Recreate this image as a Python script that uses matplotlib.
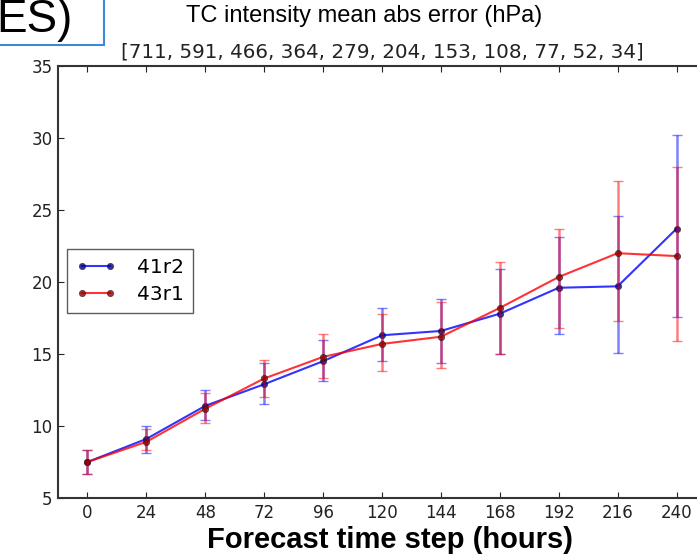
import numpy as np
import matplotlib
matplotlib.use('Agg')
from matplotlib import pyplot as plt
from matplotlib.patches import Rectangle

# forecast steps and sample counts
hours = [0, 24, 48, 72, 96, 120, 144, 168, 192, 216, 240]
counts = [711, 591, 466, 364, 279, 204, 153, 108, 77, 52, 34]

# 41r2 mean abs error and error bar bounds
err_41r2 = [7.5, 9.1, 11.4, 12.9, 14.5, 16.3, 16.6, 17.8, 19.6, 19.7, 23.7]
lo_41r2 = [6.7, 8.1, 10.4, 11.5, 13.1, 14.5, 14.4, 15.0, 16.4, 15.1, 17.6]
hi_41r2 = [8.3, 10.0, 12.5, 14.4, 16.0, 18.2, 18.8, 20.9, 23.1, 24.6, 30.2]

# 43r1
err_43r1 = [7.5, 8.9, 11.2, 13.3, 14.8, 15.7, 16.2, 18.2, 20.35, 22.0, 21.8]
lo_43r1 = [6.7, 8.3, 10.2, 12.0, 13.3, 13.8, 14.0, 15.0, 16.8, 17.3, 15.9]
hi_43r1 = [8.3, 9.8, 12.3, 14.6, 16.4, 17.8, 18.6, 21.4, 23.7, 27.0, 28.0]

fig = plt.figure(figsize=(6.97, 5.58), dpi=100)
ax = fig.add_axes([58/697, 1 - 498/558, 648/697, 432/558])

def draw(y, lo, hi, col, mcol, label):
    y = np.array(y)
    yerr = [y - np.array(lo), np.array(hi) - y]
    ax.errorbar(hours, y, yerr=yerr, fmt='none', ecolor=col, alpha=0.5,
                capsize=3.5, elinewidth=1.8, capthick=1)
    ax.plot(hours, y, '-', color=col, lw=1.5, alpha=0.8, marker='o',
            markersize=4.5, markerfacecolor=mcol, markeredgecolor='#202020',
            markeredgewidth=0.5, label=label)

draw(err_41r2, lo_41r2, hi_41r2, 'b', '#000090', '41r2')
draw(err_43r1, lo_43r1, hi_43r1, 'r', '#900000', '43r1')

ax.set_xlim(-12, 252)
ax.set_ylim(5, 35)
ax.set_xticks(hours)
ax.set_yticks([5, 10, 15, 20, 25, 30, 35])
ax.tick_params(labelsize=12, direction='in', length=4, colors='#222222',
               top=True, right=True, pad=4)
for s in ax.spines.values():
    s.set_color('#333333')
    s.set_linewidth(1.5)

ax.set_title(str(counts), fontsize=14.3, pad=6, color='#222222')
ax.legend(loc='upper left', bbox_to_anchor=(0.014, 0.576), borderaxespad=0,
          numpoints=2, fontsize=14.5, fancybox=False, edgecolor='#333333',
          handlelength=2, borderpad=0.45, labelspacing=0.4, handletextpad=1.0)

fig.text(364/697, 1 - 16/558, 'TC intensity mean abs error (hPa)', family='Liberation Sans',
         fontsize=17, ha='center', va='center')
fig.text(390/697, 1 - 540/558, 'Forecast time step (hours)', family='Liberation Sans',
         fontsize=21, fontweight='bold', ha='center', va='center')

# cropped slide label in the corner
fig.patches.append(Rectangle((-0.05, 1 - 45/558), 104/697 + 0.05, 0.2,
                             transform=fig.transFigure, fill=False,
                             edgecolor='#3b8ad9', lw=1.5))
fig.text(73/697, 1 - 20/558, 'ES)', family='Liberation Sans', fontsize=33,
         ha='right', va='center')

plt.savefig('out.png', dpi=100)
